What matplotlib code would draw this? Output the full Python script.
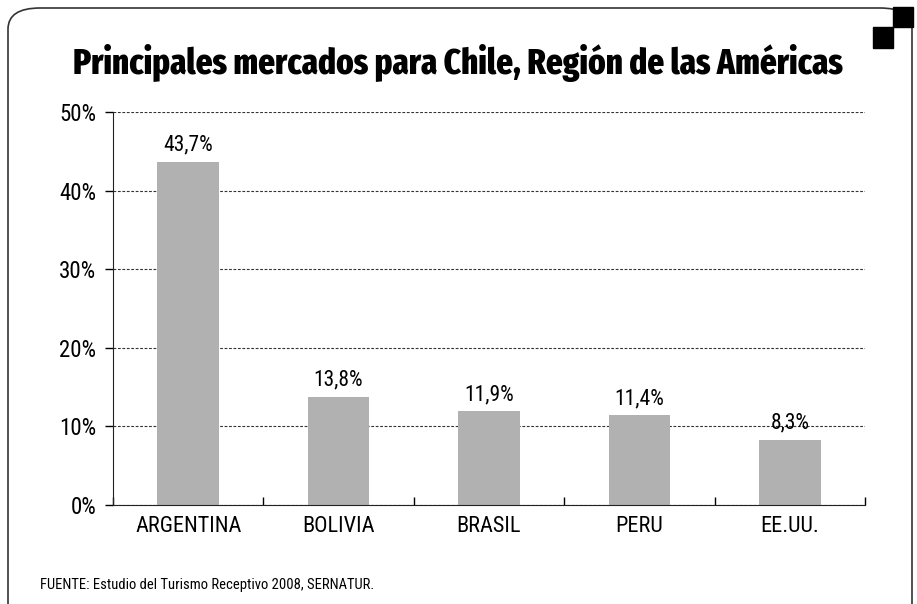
import matplotlib.pyplot as plt
from matplotlib.patches import FancyBboxPatch, Rectangle

# Data
paises = ["ARGENTINA", "BOLIVIA", "BRASIL", "PERU", "EE.UU."]
porcentajes = [43.7, 13.8, 11.9, 11.4, 8.3]
yticks = [0, 10, 20, 30, 40, 50]

plt.rcParams["font.family"] = ["Roboto Condensed", "DejaVu Sans"]

fig = plt.figure(figsize=(9.17, 6.04), dpi=100)
W, H = 917, 604

# Rounded frame and corner squares
frame = FancyBboxPatch((8 / W, -20 / H), 904 / W, 616 / H,
                       boxstyle="round,pad=0,rounding_size=0.035",
                       transform=fig.transFigure, fill=False,
                       edgecolor="#333333", linewidth=1.2)
fig.patches.append(frame)
fig.patches.append(Rectangle((893 / W, 1 - 27 / H), 20 / W, 20 / H,
                             transform=fig.transFigure, color="black"))
fig.patches.append(Rectangle((873 / W, 1 - 48 / H), 20 / W, 21 / H,
                             transform=fig.transFigure, color="black"))

ax = fig.add_axes([113 / W, 1 - 505 / H, 752 / W, 393 / H])
x = range(len(paises))
ax.bar(x, porcentajes, width=0.41, color="#b1b1b1", zorder=2)
for xi, v in zip(x, porcentajes):
    ax.text(xi, v + 0.8, f"{v:.1f}%".replace(".", ","), ha="center",
            va="bottom", fontsize=15.5, zorder=3)

ax.set_xlim(-0.5, len(paises) - 0.5)
ax.set_ylim(0, 50)
ax.set_yticks(yticks)
ax.set_yticklabels([f"{t}%" for t in yticks], fontsize=16.5)
ax.yaxis.grid(True, linestyle=(0, (2.5, 1.5)), color="#333333", linewidth=0.8, zorder=1)
ax.set_xticks([i + 0.5 for i in range(-1, len(paises))])
ax.set_xticklabels([])
ax.set_xticks(list(x), minor=True)
ax.set_xticklabels(paises, minor=True, fontsize=16)
ax.tick_params(axis="x", which="minor", length=0, pad=8)
ax.tick_params(axis="x", which="major", length=6, direction="in", width=1)
ax.tick_params(axis="y", length=6, width=1, pad=6)
for s in ["top", "right"]:
    ax.spines[s].set_visible(False)
ax.spines["left"].set_color("#222222")
ax.spines["bottom"].set_color("#222222")

fig.text(458 / W, 1 - 63 / H, "Principales mercados para Chile, Región de las Américas",
         ha="center", va="center", fontsize=25.7, fontweight=800,
         family=["Fira Sans Extra Condensed", "Roboto Condensed", "DejaVu Sans"])
fig.text(40 / W, 1 - 585 / H, "FUENTE: Estudio del Turismo Receptivo 2008, SERNATUR.",
         ha="left", va="center", fontsize=10.5)

fig.savefig("out.png", dpi=100)
